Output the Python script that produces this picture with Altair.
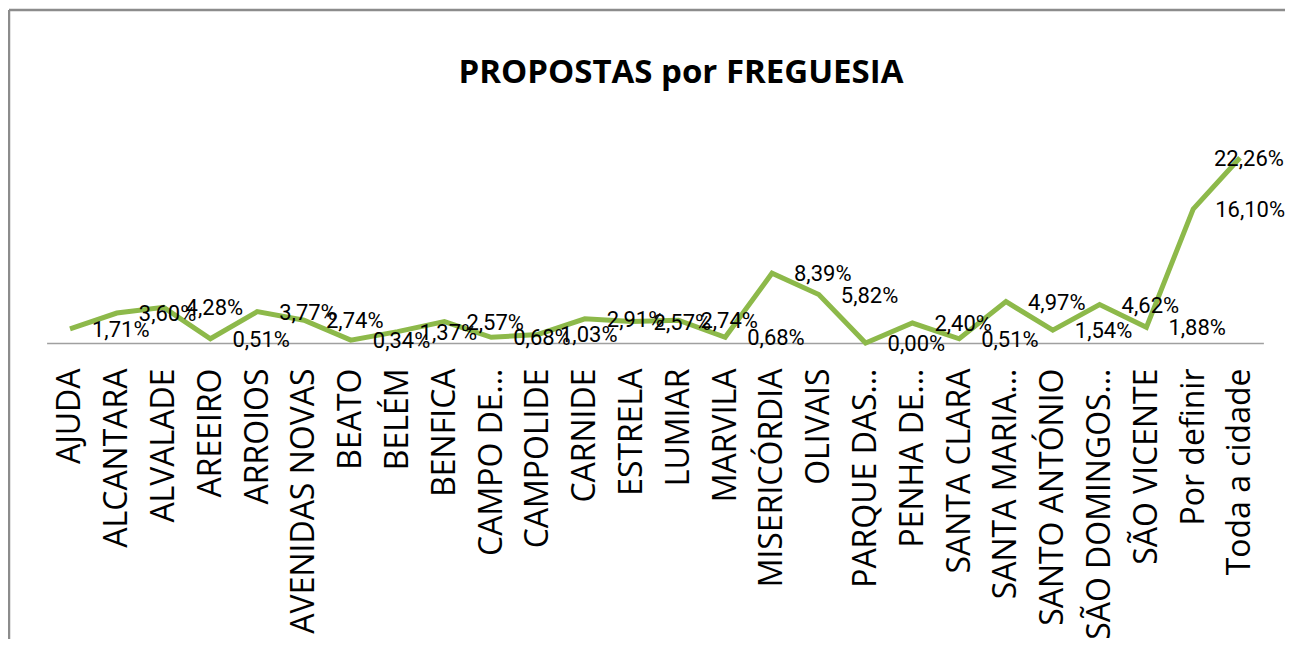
import altair as alt
import pandas as pd

freguesias = [
    "AJUDA", "ALCANTARA", "ALVALADE", "AREEIRO", "ARROIOS", "AVENIDAS NOVAS",
    "BEATO", "BELÉM", "BENFICA", "CAMPO DE…", "CAMPOLIDE", "CARNIDE",
    "ESTRELA", "LUMIAR", "MARVILA", "MISERICÓRDIA", "OLIVAIS", "PARQUE DAS…",
    "PENHA DE…", "SANTA CLARA", "SANTA MARIA…", "SANTO ANTÓNIO",
    "SÃO DOMINGOS…", "SÃO VICENTE", "Por definir", "Toda a cidade",
]
percentagens = [
    1.71, 3.60, 4.28, 0.51, 3.77, 2.74,
    0.34, 1.37, 2.57, 0.68, 1.03, 2.91,
    2.57, 2.74, 0.68, 8.39, 5.82, 0.00,
    2.40, 0.51, 4.97, 1.54,
    4.62, 1.88, 16.10, 22.26,
]
titulo = "PROPOSTAS por FREGUESIA"

df = pd.DataFrame({
    "freguesia": freguesias,
    "valor": percentagens,
    "rotulo": [f"{v:.2f}".replace(".", ",") + "%" for v in percentagens],
    "idx": list(range(len(freguesias))),
})

W, H = 1216.8, 208
LINE_COLOR = "#8DB94A"
BORDER = "#8c8c8c"
LABEL_FONT = "Roboto, 'Liberation Sans', sans-serif"

x_enc = alt.X(
    "freguesia:N",
    sort=freguesias,
    scale=alt.Scale(type="point", padding=0.5),
    axis=alt.Axis(
        title=None,
        labelAngle=270,
        labelFont="Open Sans",
        labelFontSize=32,
        labelColor="#000000",
        labelPadding=25,
        labelLimit=400,
        ticks=False,
        domainColor="#a0a0a0",
        domainWidth=1.5,
        grid=False,
    ),
)
y_enc = alt.Y("valor:Q", scale=alt.Scale(domain=[0, 25]), axis=None)

base = alt.Chart(df)

line = base.mark_line(color=LINE_COLOR, strokeWidth=5, clip=False).encode(x=x_enc, y=y_enc)

labels = base.transform_filter(alt.datum.idx < len(freguesias) - 1).mark_text(
    align="left", baseline="middle", dx=22, dy=1, font=LABEL_FONT, fontSize=22, color="#000000"
).encode(x=x_enc, y=y_enc, text="rotulo:N")

last_label = base.transform_filter(alt.datum.idx == len(freguesias) - 1).mark_text(
    align="left", baseline="middle", dx=-26, dy=1, font=LABEL_FONT, fontSize=22, color="#000000"
).encode(x=x_enc, y=y_enc, text="rotulo:N")

title_mark = alt.Chart(pd.DataFrame({"t": [titulo]})).mark_text(
    align="center", baseline="alphabetic", font="Open Sans", fontSize=33,
    fontWeight="bold", color="#000000"
).encode(x=alt.value(634.4), y=alt.value(-52), text="t:N")

top_border = alt.Chart(pd.DataFrame({"b": [0]})).mark_rule(
    color=BORDER, strokeWidth=2.5
).encode(x=alt.value(-37.6), x2=alt.value(W + 22), y=alt.value(-125))

left_border = alt.Chart(pd.DataFrame({"b": [0]})).mark_rule(
    color=BORDER, strokeWidth=2.5
).encode(x=alt.value(-37.6), y=alt.value(-125), y2=alt.value(504))

chart = alt.layer(line, labels, last_label, title_mark, top_border, left_border).properties(
    width=W,
    height=H,
    background="#ffffff",
    autosize=alt.AutoSizeParams(type="none"),
    padding={"left": 38.6, "top": 127, "right": 22, "bottom": 296},
).configure_view(strokeWidth=0, stroke="transparent")

chart.save("out.html", embed_options={"renderer": "svg", "actions": False})
